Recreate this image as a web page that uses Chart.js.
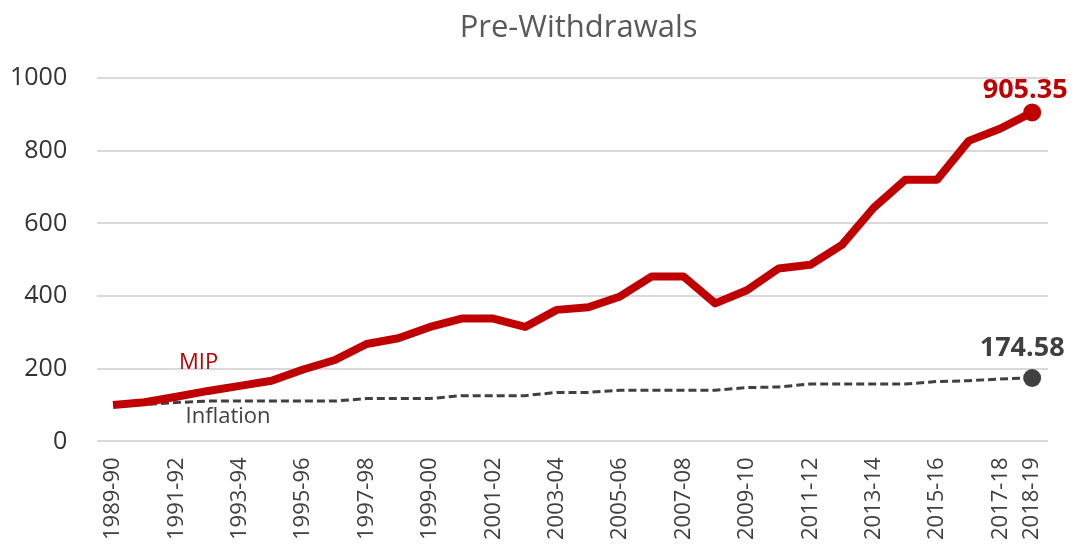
<!DOCTYPE html>
<html>
<head>
<meta charset="utf-8">
<script src="https://cdn.jsdelivr.net/npm/chart.js@4"></script>
<style>
  html, body { margin: 0; padding: 0; background: #fff; }
  #wrap { width: 1080px; height: 553px; position: relative; }
</style>
</head>
<body>
<div id="wrap"><canvas id="myChart"></canvas></div>
<script>
var years = ['1989-90', '1990-91', '1991-92', '1992-93', '1993-94', '1994-95', '1995-96', '1996-97',
    '1997-98', '1998-99', '1999-00', '2000-01', '2001-02', '2002-03', '2003-04', '2004-05', '2005-06',
    '2006-07', '2007-08', '2008-09', '2009-10', '2010-11', '2011-12', '2012-13', '2013-14', '2014-15',
    '2015-16', '2016-17', '2017-18', '2018-19'];
var mip = [100, 108, 123, 139, 153, 167, 198, 224, 268, 284, 315, 338, 338, 315, 362, 369, 399,
    454, 454, 380, 416, 476, 486, 541, 643, 720, 720, 827, 861, 905.35];
var inflation = [100, 102, 107, 111, 111, 111, 111, 111, 118, 118, 118, 126, 126, 126, 135, 135, 141,
    141, 141, 141, 148, 150, 158, 158, 158, 158, 165, 167, 172, 174.58];
var yTicks = [0, 200, 400, 600, 800, 1000];

var FONT = "'Open Sans', sans-serif";
var last = years.length - 1;

// title, series names and end value labels
var labelPlugin = {
    id: 'labels',
    afterDatasetsDraw: function (chart) {
        var ctx = chart.ctx;
        var area = chart.chartArea;
        var xs = chart.scales.x, ys = chart.scales.y;
        ctx.save();

        ctx.fillStyle = '#595959';
        ctx.font = '31px ' + FONT;
        ctx.textAlign = 'center';
        ctx.textBaseline = 'alphabetic';
        ctx.fillText('Pre-Withdrawals', (area.left + area.right) / 2 + 6, 37);

        chart.data.datasets.forEach(function (ds, i) {
            var nm = ds.nameLabel;
            ctx.fillStyle = ds.borderColor;
            ctx.font = '22px ' + FONT;
            ctx.textAlign = 'center';
            ctx.fillText(ds.label, xs.getPixelForValue(nm.at), ys.getPixelForValue(nm.value));

            var pt = chart.getDatasetMeta(i).data[last];
            ctx.font = 'bold 27px ' + FONT;
            ctx.fillText(ds.data[last].toFixed(2), pt.x + ds.endLabel.dx, pt.y + ds.endLabel.dy);
        });
        ctx.restore();
    }
};

var ctx = document.getElementById('myChart');
var myChart = new Chart(ctx, {
    type: 'line',
    data: {
        labels: years,
        datasets: [{
            label: 'MIP',
            data: mip,
            borderColor: '#C00000',
            backgroundColor: '#C00000',
            borderWidth: 8,
            borderJoinStyle: 'round',
            pointRadius: function (c) { return c.dataIndex === last ? 9 : 0; },
            pointBorderWidth: 0,
            nameLabel: { at: 2.7, value: 198 },
            endLabel: { dx: -7, dy: -14 }
        }, {
            label: 'Inflation',
            data: inflation,
            borderColor: '#404040',
            backgroundColor: '#404040',
            borderWidth: 3,
            borderDash: [8, 4],
            pointRadius: function (c) { return c.dataIndex === last ? 9 : 0; },
            pointBorderWidth: 0,
            nameLabel: { at: 3.63, value: 52 },
            endLabel: { dx: -10, dy: -22 }
        }]
    },
    options: {
        responsive: true,
        maintainAspectRatio: false,
        animation: false,
        layout: { padding: { left: -20, right: 32, top: 78, bottom: 5 } },
        plugins: {
            legend: { display: false },
            tooltip: { enabled: false },
            title: { display: false }
        },
        scales: {
            x: {
                offset: true,
                grid: { display: false },
                border: { display: false },
                ticks: {
                    autoSkip: false,
                    minRotation: 90,
                    maxRotation: 90,
                    padding: 8,
                    color: '#404040',
                    font: { family: FONT, size: 22 },
                    callback: function (v, i) {
                        return (i % 2 === 0 || i === last) ? years[i] : '';
                    }
                }
            },
            y: {
                min: 0,
                max: 1000,
                afterBuildTicks: function (axis) {
                    axis.ticks = yTicks.map(function (v) { return { value: v }; });
                },
                grid: { color: '#d9d9d9', lineWidth: 2, drawTicks: false },
                border: { display: false },
                ticks: {
                    padding: 30,
                    color: '#333333',
                    font: { family: FONT, size: 25 },
                    callback: function (v) { return String(v); }
                }
            }
        }
    },
    plugins: [labelPlugin]
});
</script>
</body>
</html>
